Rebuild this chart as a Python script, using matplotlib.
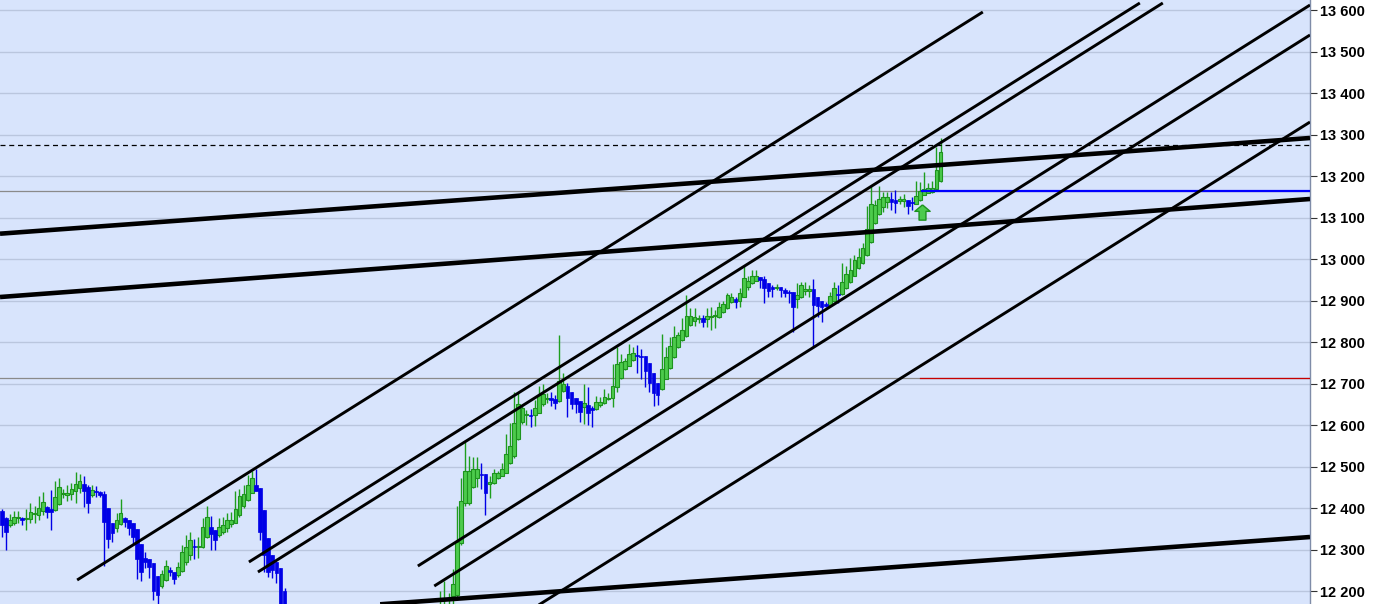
import numpy as np
import matplotlib
matplotlib.use("Agg")
import matplotlib.pyplot as plt
from matplotlib.path import Path

# ---------------- data ----------------
opens = [
    12392,12375,12358,12363,12375,12376,12373,12373,12385,12383,
    12393,12402,12397,12394,12410,12433,12431,12433,12440,12448,
    12458,12450,12431,12440,12439,12434,12400,12363,12351,12361,
    12375,12371,12363,12349,12314,12279,12277,12267,12235,12211,
    12227,12248,12245,12239,12249,12271,12287,12306,12305,12306,
    12330,12354,12347,12335,12343,12351,12362,12365,12383,12404,
    12420,12437,12456,12448,12396,12327,12287,12271,12255,12200,
    12110,12080,12050,12030,12005,12015,11975,11990,11955,11965,
    11935,11950,11975,11960,11985,12000,11980,12010,12025,12000,
    12035,12045,12020,12050,12065,12045,12070,12085,12065,12090,
    12100,12080,12105,12095,12120,12110,12125,12110,12150,12160,
    12188,12191,12315,12411,12411,12450,12472,12480,12482,12459,
    12460,12472,12477,12485,12508,12525,12566,12608,12624,12624,
    12623,12630,12651,12662,12664,12662,12659,12683,12694,12680,
    12664,12659,12644,12648,12640,12638,12648,12652,12662,12664,
    12692,12713,12734,12742,12757,12767,12766,12766,12749,12725,
    12702,12686,12712,12737,12763,12787,12805,12815,12841,12851,
    12855,12857,12855,12860,12862,12861,12873,12881,12897,12903,
    12900,12909,12932,12941,12948,12956,12951,12941,12933,12931,
    12933,12925,12921,12921,12903,12909,12924,12924,12927,12908,
    12900,12891,12889,12900,12916,12916,12929,12945,12959,12978,
    12990,13010,13042,13086,13108,13126,13138,13144,13142,13140,
    13140,13142,13136,13132,13141,13154,13160,13162,13168,13189,
]
highs = [
    12397,12378,12386,12392,12392,12378,12397,12413,12405,12429,
    12438,12405,12444,12466,12472,12445,12456,12461,12486,12482,
    12477,12456,12456,12453,12441,12441,12400,12363,12389,12421,
    12379,12371,12363,12349,12314,12295,12277,12267,12235,12251,
    12275,12259,12245,12271,12311,12335,12341,12325,12330,12375,
    12404,12381,12347,12375,12379,12387,12391,12440,12445,12456,
    12480,12488,12493,12448,12396,12327,12287,12271,12255,12207,
    12125,12095,12070,12045,12030,12020,12000,12005,11980,11975,
    11960,11985,11990,11995,12010,12005,12015,12035,12030,12040,
    12055,12050,12060,12075,12070,12080,12095,12090,12100,12110,
    12105,12115,12125,12130,12140,12135,12150,12199,12223,12195,
    12252,12405,12472,12558,12525,12524,12524,12508,12482,12476,
    12493,12490,12509,12578,12604,12680,12678,12648,12636,12638,
    12660,12694,12699,12676,12680,12672,12817,12725,12701,12680,
    12664,12659,12699,12692,12645,12670,12668,12686,12676,12747,
    12787,12771,12761,12795,12787,12793,12782,12766,12749,12725,
    12702,12819,12787,12811,12839,12823,12857,12913,12881,12881,
    12865,12865,12883,12885,12877,12897,12900,12917,12919,12909,
    12929,12982,12959,12974,12974,12956,12959,12941,12937,12940,
    12933,12929,12925,12921,12941,12945,12945,12937,12951,12908,
    12900,12897,12921,12945,12937,12990,12983,13002,13010,13026,
    13038,13128,13176,13142,13176,13162,13162,13162,13166,13152,
    13157,13142,13149,13189,13186,13210,13184,13189,13271,13291,
]
lows = [
    12331,12298,12355,12359,12363,12359,12346,12363,12363,12371,
    12383,12375,12346,12392,12408,12424,12418,12420,12413,12437,
    12402,12388,12426,12426,12426,12261,12303,12319,12341,12359,
    12354,12335,12311,12228,12225,12255,12231,12179,12169,12207,
    12225,12235,12217,12233,12247,12263,12275,12277,12279,12303,
    12327,12299,12299,12331,12338,12343,12355,12363,12379,12400,
    12418,12436,12440,12323,12245,12233,12231,12219,12120,12090,
    12060,12030,12010,11990,11980,11960,11950,11940,11930,11920,
    11915,11940,11945,11950,11970,11965,11975,12000,11990,11995,
    12020,12010,12015,12040,12035,12040,12060,12055,12060,12075,
    12070,12075,12090,12090,12100,12095,12105,12095,12140,12150,
    12165,12185,12310,12405,12408,12448,12450,12445,12383,12423,
    12458,12469,12476,12484,12506,12520,12564,12603,12600,12596,
    12598,12628,12646,12654,12646,12638,12656,12680,12619,12638,
    12630,12608,12602,12600,12594,12636,12644,12651,12660,12643,
    12680,12710,12733,12741,12755,12726,12712,12691,12680,12646,
    12648,12684,12710,12734,12761,12785,12802,12813,12839,12839,
    12845,12837,12837,12829,12833,12859,12871,12879,12895,12883,
    12885,12908,12925,12940,12946,12929,12893,12909,12909,12925,
    12908,12909,12893,12825,12881,12905,12913,12909,12789,12861,
    12849,12885,12887,12897,12893,12913,12927,12943,12958,12975,
    12988,13007,13039,13084,13106,13114,13124,13117,13112,13133,
    13125,13109,13118,13132,13140,13154,13158,13160,13166,13186,
]
closes = [
    12359,12343,12371,12379,12377,12370,12374,12391,12386,12399,
    12414,12390,12391,12426,12450,12434,12436,12445,12458,12465,
    12442,12412,12444,12439,12431,12366,12325,12339,12371,12387,
    12367,12353,12331,12277,12247,12271,12257,12199,12191,12241,
    12261,12247,12229,12259,12293,12306,12323,12305,12306,12355,
    12378,12338,12323,12354,12359,12370,12371,12397,12428,12434,
    12456,12472,12442,12343,12287,12247,12251,12243,12140,12110,
    12080,12050,12030,12005,12015,11975,11990,11955,11965,11935,
    11950,11975,11960,11985,12000,11980,12010,12025,12000,12035,
    12045,12020,12050,12065,12045,12070,12085,12065,12090,12100,
    12080,12105,12095,12120,12110,12125,12110,12150,12160,12165,
    12217,12319,12418,12488,12488,12493,12493,12479,12437,12460,
    12484,12485,12493,12530,12549,12604,12651,12640,12625,12621,
    12640,12672,12675,12664,12660,12654,12707,12699,12664,12651,
    12651,12632,12652,12630,12636,12656,12656,12668,12666,12694,
    12747,12753,12755,12771,12774,12766,12764,12731,12702,12676,
    12672,12734,12763,12790,12813,12817,12829,12863,12863,12861,
    12856,12849,12863,12863,12863,12885,12892,12913,12908,12897,
    12919,12954,12948,12958,12959,12950,12929,12924,12927,12932,
    12925,12919,12919,12885,12913,12937,12926,12927,12889,12887,
    12884,12887,12911,12929,12914,12944,12965,12974,12998,13006,
    13026,13072,13133,13130,13144,13149,13149,13138,13136,13144,
    13144,13128,13134,13152,13164,13168,13170,13170,13215,13257,
]

price_ticks = [12200, 12300, 12400, 12500, 12600, 12700, 12800, 12900,
               13000, 13100, 13200, 13300, 13400, 13500, 13600]

# trend lines: (bar1, price1, bar2, price2)
thick_lines = [
    (-0.41, 13061.0, 319.1, 13291.6),
    (-0.41, 12908.4, 319.1, 13144.6),
    (92.3, 12168.0, 319.1, 12330.1),
]
thin_lines = [
    (18.4, 12226.5, 239.3, 13595.2),
    (60.3, 12269.9, 277.6, 13616.9),
    (62.5, 12245.8, 283.2, 13616.9),
    (101.5, 12260.2, 319.1, 13612.0),
    (105.5, 12212.0, 319.1, 13539.8),
    (128.9, 12153.5, 319.1, 13330.1),
]
gray_levels = [13165, 12713]
blue_level = (224.5, 13165)     # start bar, price
red_level = (224.0, 12713)
dashed_level = 13275
signal_bar, signal_price = 224.5, 13113

# ---------------- figure ----------------
W, H, DPI = 1373, 604, 100
fig = plt.figure(figsize=(W / DPI, H / DPI), dpi=DPI, facecolor="white")
ax = fig.add_axes([0, 0, 1310 / W, 1])
ax.set_facecolor("#D8E4FC")

xmin, xmax = -0.415, 319.1
ymin, ymax = 12168.7, 13624.1
ax.set_xlim(xmin, xmax)
ax.set_ylim(ymin, ymax)

for p in price_ticks:
    ax.axhline(p, color="#BAC6DE", lw=1.0, zorder=0.5)
for p in gray_levels:
    ax.axhline(p, color="#8A8A8A", lw=0.9, zorder=1)

o = np.array(opens, float)
h = np.array(highs, float)
l = np.array(lows, float)
c = np.array(closes, float)
idx = np.arange(len(o))
up = c >= o
dn = ~up
bottom = np.minimum(o, c)
height = np.maximum(np.abs(c - o), 2.6)

ax.vlines(idx[up], l[up], h[up], color="#1E9E1E", lw=1.0, zorder=2)
ax.vlines(idx[dn], l[dn], h[dn], color="#0000E6", lw=1.0, zorder=2)
ax.bar(idx[up], height[up], bottom=bottom[up], width=0.88,
       color="#4CCB4C", edgecolor="#1E931E", linewidth=0.8, zorder=3)
ax.bar(idx[dn], height[dn], bottom=bottom[dn], width=0.88,
       color="#0000E6", edgecolor="#0000E6", linewidth=0.5, zorder=3)

ax.axhline(dashed_level, color="black", lw=0.9, ls=(0, (4, 3)), zorder=4)
ax.plot([blue_level[0], xmax], [blue_level[1]] * 2, color="#0000FF", lw=1.6, zorder=4)
ax.plot([red_level[0], xmax], [red_level[1]] * 2, color="#C80000", lw=0.9, zorder=4)

for x1, y1, x2, y2 in thick_lines:
    ax.plot([x1, x2], [y1, y2], color="black", lw=3.3, solid_capstyle="butt", zorder=5)
for x1, y1, x2, y2 in thin_lines:
    ax.plot([x1, x2], [y1, y2], color="black", lw=2.1, solid_capstyle="butt", zorder=5)

arrow = Path([(0, 1), (-1, 0.15), (-0.45, 0.15), (-0.45, -1),
              (0.45, -1), (0.45, 0.15), (1, 0.15), (0, 1)])
ax.plot([signal_bar], [signal_price], marker=arrow, ms=11,
        mfc="#4CCB4C", mec="#1E931E", mew=1.0, ls="none", zorder=6)

# axes styling
ax.set_xticks([])
ax.yaxis.tick_right()
ax.set_yticks(price_ticks)
ax.set_yticklabels([f"{p:,}".replace(",", " ") for p in price_ticks],
                   fontfamily=["Liberation Sans", "DejaVu Sans"],
                   fontweight="bold", fontsize=10.5)
ax.tick_params(axis="y", direction="out", length=5, width=0.8,
               color="#333333", pad=2.5, labelcolor="black")
for s in ["left", "top", "bottom"]:
    ax.spines[s].set_visible(False)
ax.spines["right"].set_color("#7F8CA8")
ax.spines["right"].set_linewidth(1.0)

fig.savefig("out.png", dpi=DPI, facecolor="white")
